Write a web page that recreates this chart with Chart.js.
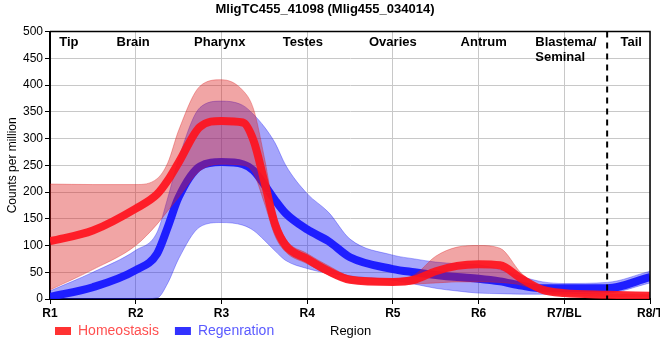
<!DOCTYPE html>
<html lang="en">
<head>
    <meta charset="UTF-8">
    <title>MligTC455_41098</title>
    <script src="https://cdn.jsdelivr.net/npm/chart.js"></script>
    <style>
        body { margin: 0; background: #fff; }
    </style>
</head>
<body>
    <canvas id="myChart" width="660" height="360"></canvas>
    <script>
        // x positions (0 = R1 ... 7 = R8/T)
        const xPos = [0, 0.5, 1, 1.25, 1.375, 1.5, 1.75, 2, 2.25, 2.375, 2.5, 2.625, 2.75, 3, 3.25, 3.5, 4, 4.25, 4.5, 4.75, 5, 5.25, 5.5, 5.75, 6, 6.5, 7];

        const homeo   = [108, 128, 169, 196, 222, 255, 322, 333, 330, 296, 220, 140, 100, 75, 52, 36, 32, 36, 52, 62, 65, 63, 38, 17, 11, 8, 6];
        const homeoHi = [215, 214, 214, 225, 255, 315, 398, 410, 390, 355, 265, 160, 112, 85, 62, 43, 38, 45, 80, 97, 100, 95, 48, 20, 13, 9, 8];
        const homeoLo = [17, 55, 100, 140, 165, 190, 240, 252, 250, 235, 180, 118, 88, 66, 45, 31, 27, 28, 30, 32, 32, 31, 26, 12, 7, 5, 4];

        const regen   = [4, 22, 54, 85, 135, 190, 248, 256, 252, 240, 214, 185, 160, 130, 108, 78, 56, 50, 45, 41, 38, 33, 25, 20, 20, 20, 41];
        const regenHi = [15, 50, 91, 125, 190, 262, 358, 370, 362, 345, 322, 292, 250, 197, 162, 112, 82, 75, 69, 66, 64, 55, 42, 32, 29, 31, 52];
        const regenLo = [0, 0, 0, 2, 30, 75, 135, 143, 138, 128, 110, 90, 72, 57, 48, 43, 35, 28, 20, 15, 11, 10, 9, 9, 10, 11, 30];

        const tickLabels = ['R1', 'R2', 'R3', 'R4', 'R5', 'R6', 'R7/BL', 'R8/T'];
        const regionNames = ['Tip', 'Brain', 'Pharynx', 'Testes', 'Ovaries', 'Antrum', 'Blastema/\nSeminal', 'Tail'];
        const regionAt = [0.22, 0.97, 1.98, 2.95, 4, 5.06, 6.02, 6.78];
        const dashedAt = 6.5;

        const FONT = '"Liberation Sans", Arial, sans-serif';
        const pts = arr => arr.map((v, i) => ({ x: xPos[i], y: v }));

        function line(label, data, color) {
            return { label, data: pts(data), borderColor: color, backgroundColor: color, borderWidth: 8,
                     pointRadius: 0, fill: false, cubicInterpolationMode: 'monotone', borderCapStyle: 'butt' };
        }
        function band(data, edge, fillColor, fill) {
            return { label: '', data: pts(data), borderColor: edge, backgroundColor: fillColor, borderWidth: 1,
                     pointRadius: 0, fill: fill, cubicInterpolationMode: 'monotone' };
        }

        // region names inside the top of the plot, dashed separator, box border, x title next to legend
        const extras = {
            id: 'extras',
            afterLayout(chart) {
                // legend sits on the same row as the "Region" title, a bit in from the left
                const lg = chart.legend;
                lg.left = 39;
                lg.top = 308;
                lg.bottom = lg.top + lg.height;
            },
            afterDatasetsDraw(chart) {
                const { ctx, chartArea: a, scales: { x } } = chart;
                ctx.save();
                ctx.strokeStyle = '#000';
                ctx.lineWidth = 2;
                ctx.setLineDash([6, 5]);
                const dx = x.getPixelForValue(dashedAt);
                ctx.beginPath();
                ctx.moveTo(dx, a.top);
                ctx.lineTo(dx, a.bottom);
                ctx.stroke();
                ctx.setLineDash([]);
                ctx.lineWidth = 1.5;
                ctx.beginPath();
                ctx.moveTo(a.left, a.top);
                ctx.lineTo(a.right, a.top);
                ctx.lineTo(a.right, a.bottom);
                ctx.stroke();

                ctx.fillStyle = '#000';
                ctx.font = 'bold 13px ' + FONT;
                ctx.textBaseline = 'middle';
                ctx.textAlign = 'left';
                regionNames.forEach((name, i) => {
                    const lines = name.split('\n');
                    const w = Math.max(...lines.map(l => ctx.measureText(l).width));
                    const left = x.getPixelForValue(regionAt[i]) - w / 2;
                    lines.forEach((l, j) => ctx.fillText(l, left, a.top + 11 + j * 15));
                });
                ctx.restore();
            },
            afterDraw(chart) {
                const { ctx, legend } = chart;
                ctx.save();
                ctx.fillStyle = '#000';
                ctx.font = '13px ' + FONT;
                ctx.textBaseline = 'middle';
                ctx.textAlign = 'left';
                ctx.fillText('Region', 330, legend.top + 23);
                ctx.restore();
            }
        };

        const ctx = document.getElementById('myChart').getContext('2d');
        const myChart = new Chart(ctx, {
            type: 'line',
            data: {
                datasets: [
                    line('Homeostasis', homeo, 'rgba(255, 20, 30, 0.92)'),
                    band(homeoHi, 'rgba(220, 30, 30, 0.35)', 'rgba(220, 30, 30, 0.4)', '+1'),
                    band(homeoLo, 'rgba(220, 30, 30, 0.35)', 'rgba(220, 30, 30, 0.4)', false),
                    line('Regenration', regen, 'rgba(20, 20, 255, 0.92)'),
                    band(regenHi, 'rgba(30, 30, 245, 0.35)', 'rgba(30, 30, 245, 0.4)', '+1'),
                    band(regenLo, 'rgba(30, 30, 245, 0.35)', 'rgba(30, 30, 245, 0.4)', false)
                ]
            },
            options: {
                responsive: false,
                animation: false,
                layout: { padding: { left: 0, right: 10, top: 0, bottom: 0 } },
                plugins: {
                    title: {
                        display: true,
                        text: 'MligTC455_41098 (Mlig455_034014)',
                        color: '#000',
                        font: { family: FONT, size: 13, weight: 'bold' },
                        padding: { top: 2, bottom: 14 }
                    },
                    legend: {
                        position: 'bottom',
                        align: 'start',
                        labels: {
                            boxWidth: 16,
                            boxHeight: 8,
                            padding: 16,
                            font: { family: FONT, size: 14 },
                            filter: item => item.text !== '',
                            generateLabels(chart) {
                                const items = Chart.defaults.plugins.legend.labels.generateLabels(chart);
                                return items.map(it => {
                                    const red = it.datasetIndex === 0;
                                    it.fillStyle = red ? 'rgb(255, 50, 50)' : 'rgb(50, 50, 255)';
                                    it.strokeStyle = it.fillStyle;
                                    it.lineWidth = 0;
                                    it.fontColor = red ? 'rgb(255, 80, 80)' : 'rgb(90, 90, 255)';
                                    return it;
                                });
                            }
                        }
                    },
                    tooltip: { enabled: false }
                },
                scales: {
                    x: {
                        type: 'linear',
                        min: 0,
                        max: 7,
                        ticks: {
                            stepSize: 1,
                            color: '#000',
                            padding: 2,
                            font: { family: FONT, size: 12, weight: 'bold' },
                            callback: v => tickLabels[v]
                        },
                        grid: { color: '#c8c8c8', tickLength: 5, tickColor: '#000' },
                        border: { color: '#000', width: 2 },
                        afterFit: s => { s.paddingRight = 0; s.paddingLeft = 0; s.height = 21; }
                    },
                    y: {
                        min: 0,
                        max: 500,
                        ticks: {
                            stepSize: 50,
                            color: '#000',
                            padding: 2,
                            font: { family: FONT, size: 12 }
                        },
                        title: {
                            display: true,
                            text: 'Counts per million',
                            color: '#000',
                            padding: { top: 5, bottom: 0 },
                            font: { family: FONT, size: 12 }
                        },
                        grid: { color: '#c8c8c8', tickLength: 5, tickColor: '#000' },
                        border: { color: '#000', width: 2 },
                        afterFit: s => { s.width = 50; }
                    }
                }
            },
            plugins: [extras]
        });
    </script>
</body>
</html>
